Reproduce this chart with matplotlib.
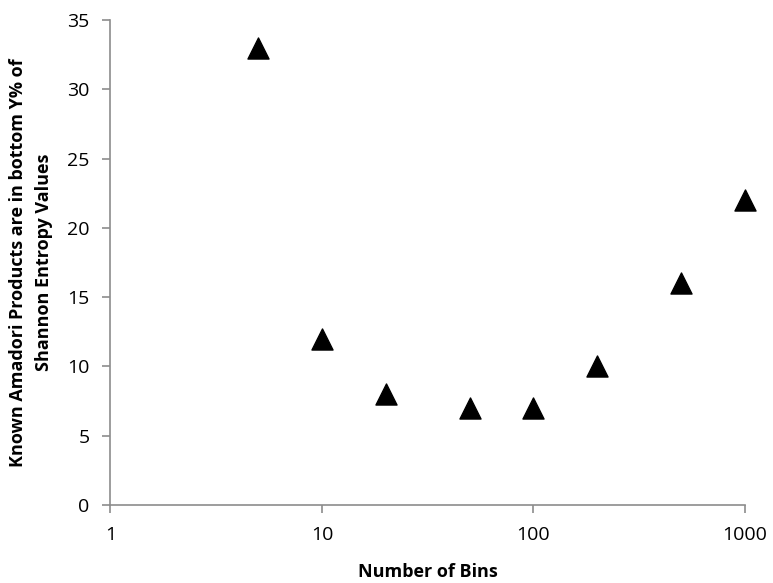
import matplotlib
matplotlib.use("Agg")
import matplotlib.pyplot as plt
from matplotlib.ticker import FixedLocator, FixedFormatter, NullLocator

bins = [5, 10, 20, 50, 100, 200, 500, 1000]
percent = [33, 12, 8, 7, 7, 10, 16, 22]
x_ticks = [1, 10, 100, 1000]
x_labels = ["1", "10", "100", "1000"]
y_ticks = [0, 5, 10, 15, 20, 25, 30, 35]

plt.rcParams['font.family'] = ['Open Sans', 'DejaVu Sans']

fig = plt.figure(figsize=(7.73, 5.83), dpi=100)
ax = fig.add_axes([0.1427, 0.1338, 0.9638 - 0.1427, 0.9657 - 0.1338])
ax.scatter(bins, percent, marker='^', s=230, color='black', zorder=3, clip_on=False)
ax.set_xscale('log')
ax.set_xlim(1, 1000)
ax.set_ylim(0, 35)
ax.xaxis.set_major_locator(FixedLocator(x_ticks))
ax.xaxis.set_major_formatter(FixedFormatter(x_labels))
ax.xaxis.set_minor_locator(NullLocator())
ax.set_yticks(y_ticks)
for s in ['top', 'right']:
    ax.spines[s].set_visible(False)
for s in ['left', 'bottom']:
    ax.spines[s].set_color('#8c8c8c')
    ax.spines[s].set_linewidth(1.2)
ax.tick_params(axis='both', direction='out', length=6, width=1.2, color='#8c8c8c',
               labelsize=14, labelcolor='black', pad=9)
ax.set_xlabel('Number of Bins', fontsize=13, fontweight='bold', labelpad=14)
ax.set_ylabel('Known Amadori Products are in bottom Y% of\nShannon Entropy Values',
              fontsize=13, fontweight='bold', labelpad=10, linespacing=1.55)
fig.savefig('out.png', dpi=100)
